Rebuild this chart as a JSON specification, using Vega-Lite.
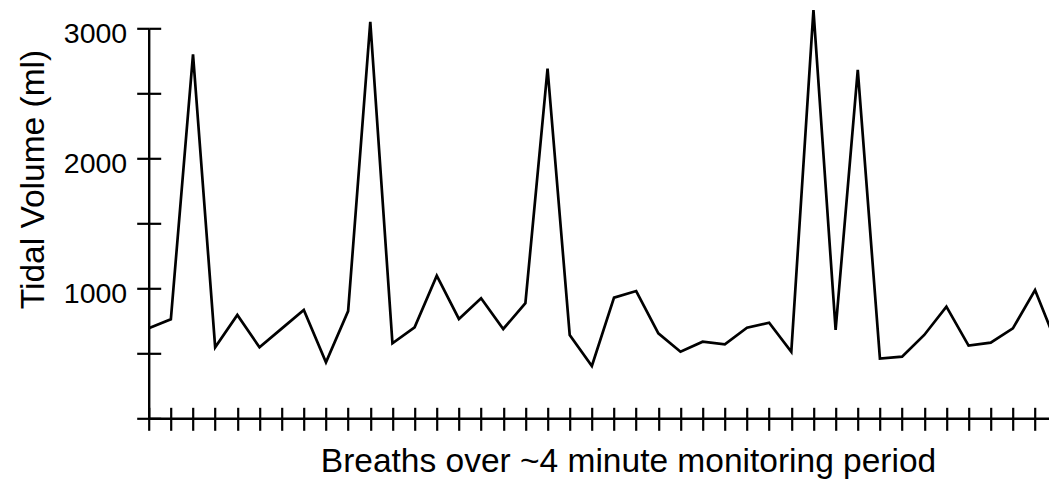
{
  "$schema": "https://vega.github.io/schema/vega-lite/v6.json",
  "autosize": {"type": "none"},
  "padding": {"left": 148.7, "top": 28.3, "right": 0, "bottom": 62.7},
  "width": 900.3,
  "height": 390,
  "background": "white",
  "config": {
    "view": {"stroke": null},
    "font": "Liberation Sans",
    "axis": {
      "domainColor": "black",
      "domainWidth": 2.4,
      "tickColor": "black",
      "tickWidth": 2.2,
      "gridColor": "black",
      "gridWidth": 2.2,
      "gridOpacity": 1,
      "labelColor": "black",
      "titleColor": "black",
      "labelFont": "Liberation Sans",
      "titleFont": "Liberation Sans",
      "titleFontWeight": "normal"
    }
  },
  "data": {
    "values": [
      {"breath": 0, "volume": 692},
      {"breath": 1, "volume": 762},
      {"breath": 2, "volume": 2800},
      {"breath": 3, "volume": 546},
      {"breath": 4, "volume": 795},
      {"breath": 5, "volume": 546},
      {"breath": 6, "volume": 690},
      {"breath": 7, "volume": 833},
      {"breath": 8, "volume": 431},
      {"breath": 9, "volume": 825},
      {"breath": 10, "volume": 3050},
      {"breath": 11, "volume": 577},
      {"breath": 12, "volume": 700},
      {"breath": 13, "volume": 1097},
      {"breath": 14, "volume": 764},
      {"breath": 15, "volume": 923},
      {"breath": 16, "volume": 687},
      {"breath": 17, "volume": 885},
      {"breath": 18, "volume": 2690},
      {"breath": 19, "volume": 641},
      {"breath": 20, "volume": 402},
      {"breath": 21, "volume": 928},
      {"breath": 22, "volume": 979},
      {"breath": 23, "volume": 654},
      {"breath": 24, "volume": 512},
      {"breath": 25, "volume": 589},
      {"breath": 26, "volume": 569},
      {"breath": 27, "volume": 697},
      {"breath": 28, "volume": 735},
      {"breath": 29, "volume": 512},
      {"breath": 30, "volume": 3140},
      {"breath": 31, "volume": 680},
      {"breath": 32, "volume": 2680},
      {"breath": 33, "volume": 460},
      {"breath": 34, "volume": 474},
      {"breath": 35, "volume": 641},
      {"breath": 36, "volume": 859},
      {"breath": 37, "volume": 559},
      {"breath": 38, "volume": 582},
      {"breath": 39, "volume": 692},
      {"breath": 40, "volume": 987},
      {"breath": 41, "volume": 560}
    ]
  },
  "mark": {"type": "line", "color": "black", "strokeWidth": 2.7, "clip": false},
  "encoding": {
    "x": {
      "field": "breath",
      "type": "quantitative",
      "scale": {"domain": [0, 40.63], "nice": false, "zero": false},
      "axis": {
        "orient": "bottom",
        "tickSize": 12,
        "grid": true,
        "gridDash": [11, 379],
        "gridDashOffset": 11,
        "title": "Breaths over ~4 minute monitoring period",
        "titleFontSize": 33.5,
        "titleX": 479.3,
        "titleY": 53.4,
        "titleAlign": "center",
        "titleBaseline": "alphabetic",
        "values": [0,1,2,3,4,5,6,7,8,9,10,11,12,13,14,15,16,17,18,19,20,21,22,23,24,25,26,27,28,29,30,31,32,33,34,35,36,37,38,39,40],
        "labels": false
      }
    },
    "y": {
      "field": "volume",
      "type": "quantitative",
      "scale": {"domain": [0, 3000], "nice": false},
      "axis": {
        "orient": "left",
        "tickSize": 12,
        "grid": true,
        "gridDash": [12, 2000],
        "gridDashOffset": 0,
        "title": "Tidal Volume (ml)",
        "titleFontSize": 33.5,
        "titleAngle": -90,
        "titleX": -105.2,
        "titleY": 150.7,
        "titleAlign": "center",
        "titleBaseline": "alphabetic",
        "values": [0, 500, 1000, 1500, 2000, 2500, 3000],
        "labelExpr": "datum.value > 0 && datum.value % 1000 === 0 ? datum.label : ''",
        "format": "d",
        "labelFontSize": 28.5,
        "labelPadding": 10,
        "labelBaseline": "middle",
        "labelOffset": 5
      }
    }
  }
}
